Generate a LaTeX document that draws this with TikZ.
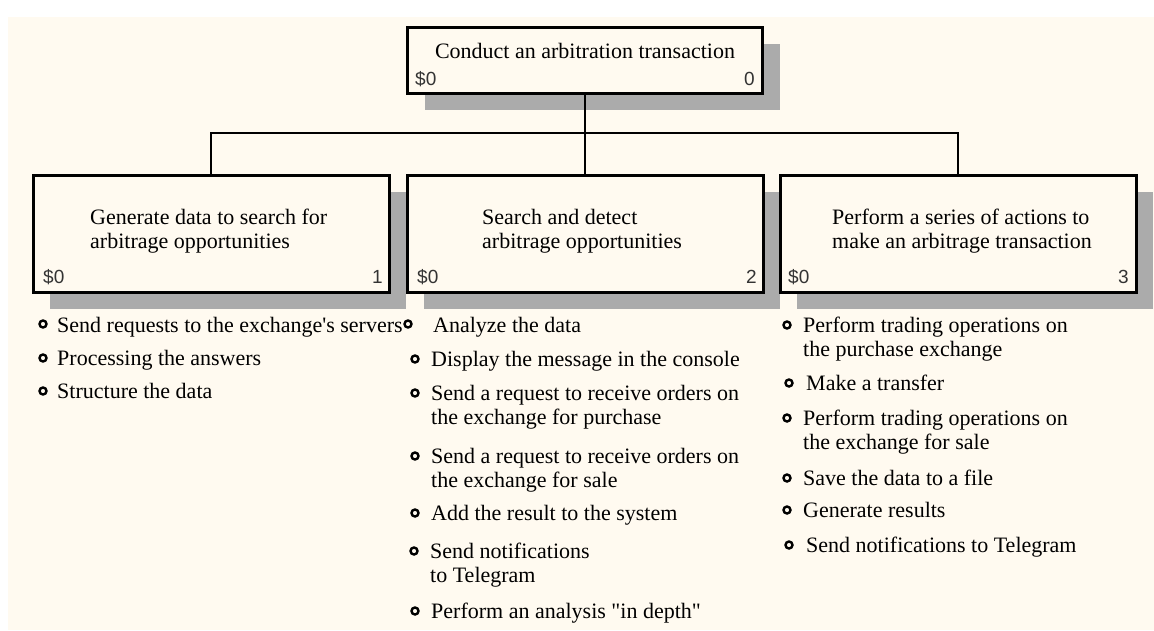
\documentclass[tikz,border=0pt]{standalone}
\usepackage{fontspec}
\setmainfont{Liberation Serif}
\newfontfamily\costfont{Liberation Sans}
\usepackage{tikz}
\usetikzlibrary{shadows}
\definecolor{paper}{RGB}{255,250,240}
\tikzset{
  act/.style={draw, line width=3pt, fill=paper, inner sep=0pt,
    minimum width=356pt, minimum height=117pt,
    drop shadow={shadow xshift=17pt, shadow yshift=-17pt, opacity=1, fill=black!33}},
  link/.style={line width=2.5pt},
  txt/.style={inner sep=0pt, align=left, font=\fontsize{22}{24.5}\selectfont},
  item/.style={txt, anchor=base west},
  cost/.style={inner sep=0pt, text=black!80, font=\costfont\fontsize{19}{20}\selectfont},
  bul/.style={circle, draw, line width=2.4pt, inner sep=0pt, minimum size=7pt}
}

\begin{document}
\begin{tikzpicture}[x=1pt, y=-1pt]
        \useasboundingbox (0,0) rectangle (1154,630);
        \fill[white] (0,0) rectangle (1154,630);
        \fill[paper] (8,17) rectangle (1154,630);

        % activity boxes
        \node[act, minimum width=355pt, minimum height=66pt] (a0) at (585,60) {};
        \node[act] (a1) at (211,233.5) {};
        \node[act] (a2) at (585,233.5) {};
        \node[act] (a3) at (958,233.5) {};

        \coordinate (bus) at (585,133);
        \draw[link] (a0) -- (a2);
        \draw[link] (a1) |- (bus) -| (a3);

        % box texts
        \node[txt, anchor=base] (t0) at (585,58) {Conduct an arbitration transaction};
        \node[txt, anchor=west] (t1) at (90,231) {Generate data to search for\\arbitrage opportunities};
        \node[txt, anchor=west] (t2) at (482,231) {Search and detect\\arbitrage opportunities};
        \node[txt, anchor=west] (t3) at (832,231) {Perform a series of actions to\\make an arbitrage transaction};

        \node[cost, anchor=base west] (c0) at (415,85) {\$0};
        \node[cost, anchor=base east] (n0) at (755,85) {0};
        \node[cost, anchor=base west] (c1) at (43,283) {\$0};
        \node[cost, anchor=base east] (n1) at (383,283) {1};
        \node[cost, anchor=base west] (c2) at (417,283) {\$0};
        \node[cost, anchor=base east] (n2) at (757,283) {2};
        \node[cost, anchor=base west] (c3) at (788,283) {\$0};
        \node[cost, anchor=base east] (n3) at (1129,283) {3};

        % first list (base = last line)
        \node[bul] (d11) at (43,324) {};
        \node[item] (i11) at (57,332) {Send requests to the exchange\textquotesingle s servers};
        \node[bul] (d12) at (43,358) {};
        \node[item] (i12) at (57,365) {Processing the answers};
        \node[bul] (d13) at (43,391) {};
        \node[item] (i13) at (57,398) {Structure the data};

        % second list
        \node[bul] (d21) at (408,324) {};
        \node[item] (i21) at (433,332) {Analyze the data};
        \node[bul] (d22) at (415,359) {};
        \node[item] (i22) at (431,366) {Display the message in the console};
        \node[bul] (d23) at (415,393) {};
        \node[item] (i23) at (431,424.5) {Send a request to receive orders on\\the exchange for purchase};
        \node[bul] (d24) at (415,456) {};
        \node[item] (i24) at (431,487.5) {Send a request to receive orders on\\the exchange for sale};
        \node[bul] (d25) at (415,513) {};
        \node[item] (i25) at (431,520) {Add the result to the system};
        \node[bul] (d26) at (414,551) {};
        \node[item] (i26) at (430,582.5) {Send notifications\\to Telegram};
        \node[bul] (d27) at (415,611) {};
        \node[item] (i27) at (431,618) {Perform an analysis \textquotedbl in depth\textquotedbl};

        % third list
        \node[bul] (d31) at (787,325) {};
        \node[item] (i31) at (803,356.5) {Perform trading operations on\\the purchase exchange};
        \node[bul] (d32) at (789,383) {};
        \node[item] (i32) at (806,390) {Make a transfer};
        \node[bul] (d33) at (787,418) {};
        \node[item] (i33) at (803,449.5) {Perform trading operations on\\the exchange for sale};
        \node[bul] (d34) at (787,478) {};
        \node[item] (i34) at (803,485) {Save the data to a file};
        \node[bul] (d35) at (787,510) {};
        \node[item] (i35) at (803,517) {Generate results};
        \node[bul] (d36) at (789,545) {};
        \node[item] (i36) at (806,552) {Send notifications to Telegram};
      \end{tikzpicture}
\end{document}
